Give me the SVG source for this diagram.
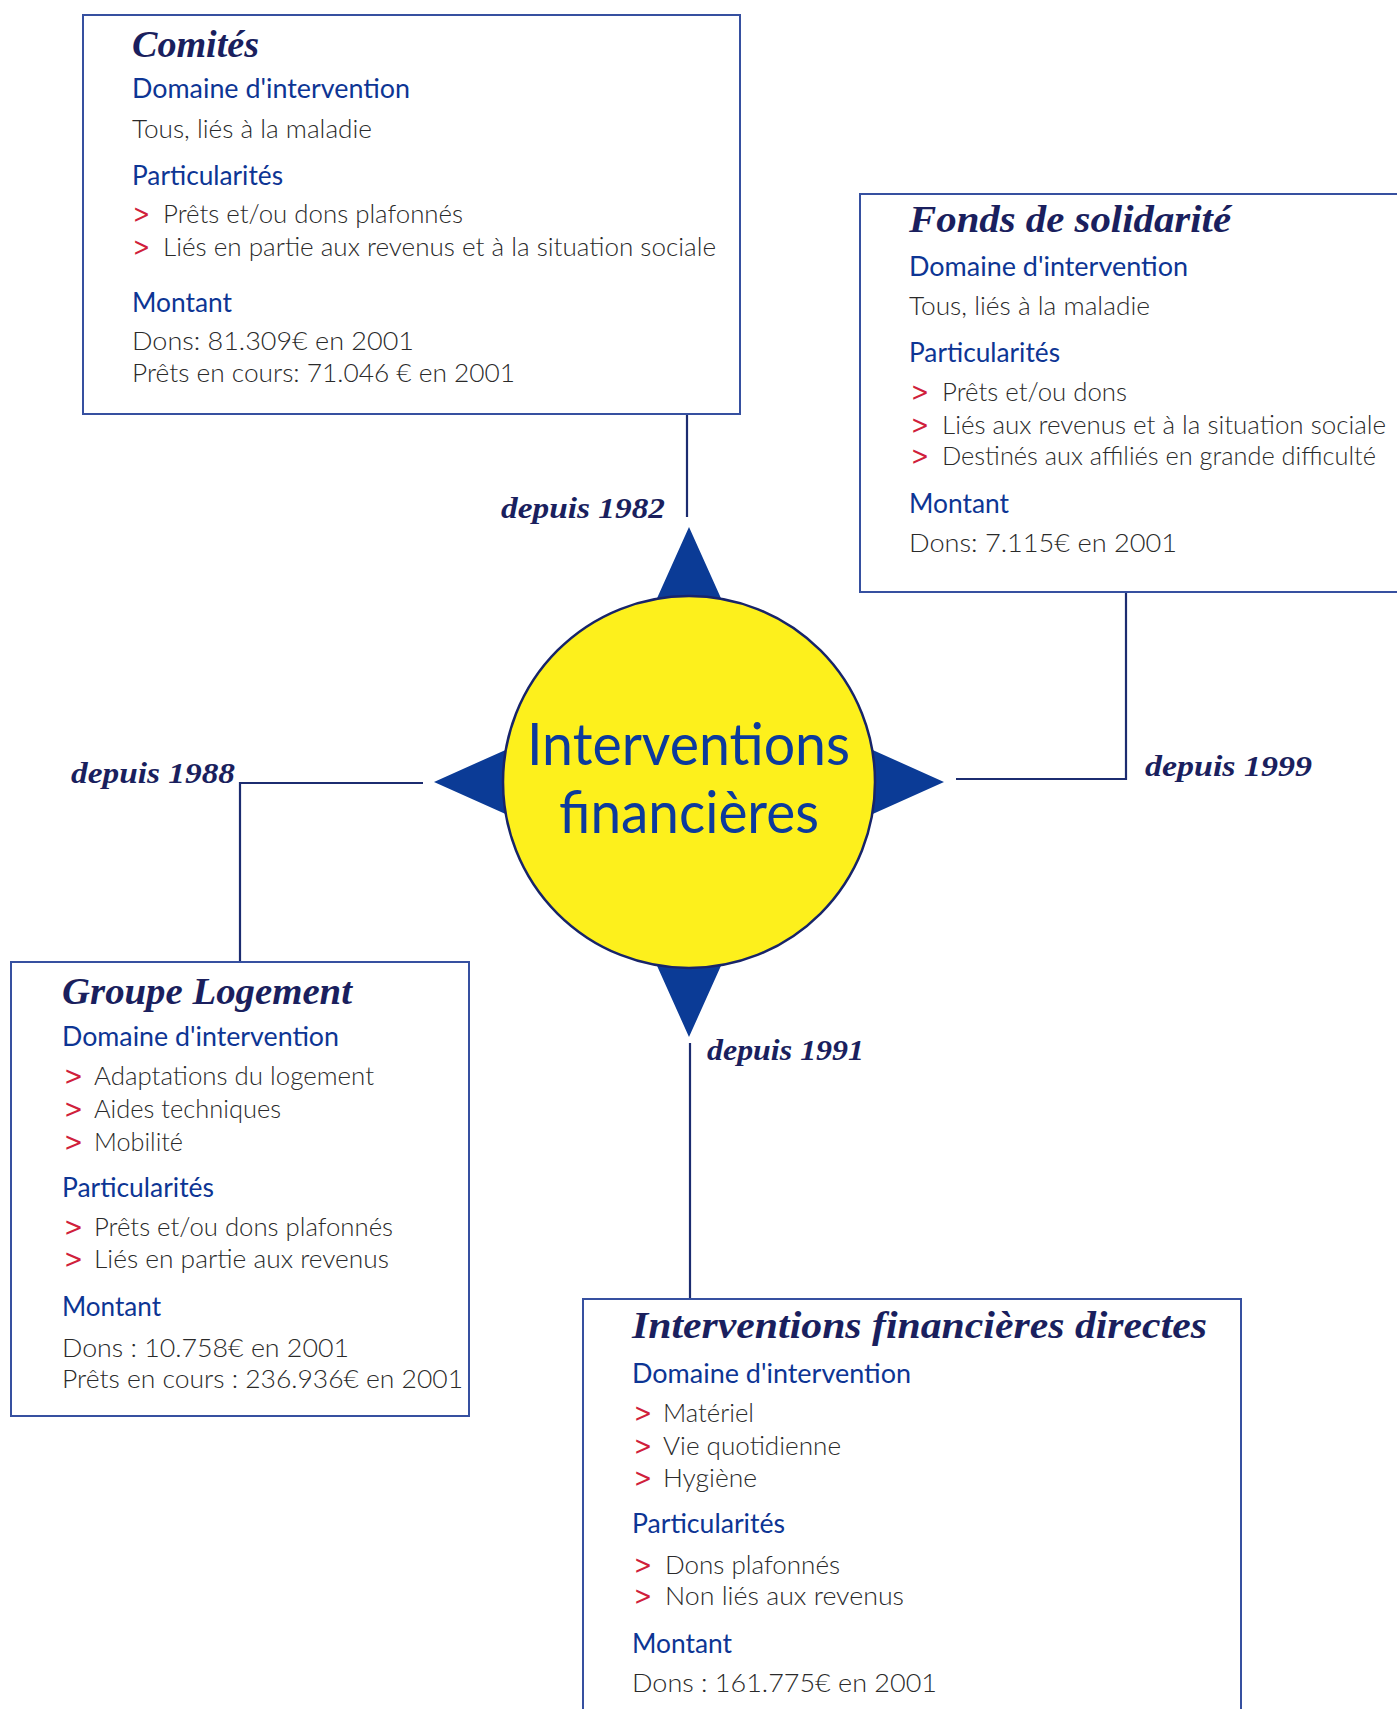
<svg xmlns="http://www.w3.org/2000/svg" width="1397" height="1709" viewBox="0 0 1397 1709">
<style>
.box{fill:#fff;stroke:#3650a0;stroke-width:2}
.con{fill:none;stroke:#1c2c70;stroke-width:2.2}
.ttl{font-family:"Liberation Serif",serif;font-style:italic;font-weight:bold;font-size:38px;fill:#1a1f5e}
.dep{font-family:"Liberation Serif",serif;font-style:italic;font-weight:bold;font-size:30px;fill:#1a1f5e}
.hd{font-family:Lato,"Open Sans",sans-serif;font-size:26px;fill:#0d3594}
.tx{font-family:Lato,"Open Sans",sans-serif;font-weight:300;font-size:26px;fill:#2a2a2a}
.bl{font-family:"DejaVu Sans",sans-serif;font-size:26px;fill:#d01f3c}
.ctr{font-family:Lato,"Open Sans",sans-serif;font-size:58px;fill:#0c3a9c}
</style>
<rect width="1397" height="1709" fill="#fff"/>
<g id="connectors">
<path class="con" d="M687 414 V517"/>
<path class="con" d="M1126 592 V779 H956"/>
<path class="con" d="M423 783 H240 V962"/>
<path class="con" d="M690 1043 V1299"/>
</g>
<g id="center">
<polygon fill="#0b3b96" points="689,527 768,703 944,782 768,861 689,1037 610,861 434,782 610,703"/>
<circle cx="689" cy="782" r="186" fill="#fdf01c" stroke="#17246a" stroke-width="2.5"/>
<text class="ctr" x="527" y="765" textLength="323" lengthAdjust="spacingAndGlyphs" fill="#1a3182">Interventions</text>
<text class="ctr" x="559" y="833" textLength="260" lengthAdjust="spacingAndGlyphs">financières</text>
</g>
<g id="labels">
<text class="dep" x="501" y="518" textLength="164" lengthAdjust="spacingAndGlyphs">depuis 1982</text>
<text class="dep" x="71" y="783" textLength="164" lengthAdjust="spacingAndGlyphs">depuis 1988</text>
<text class="dep" x="1145" y="776" textLength="167" lengthAdjust="spacingAndGlyphs">depuis 1999</text>
<text class="dep" x="707" y="1060" textLength="157" lengthAdjust="spacingAndGlyphs">depuis 1991</text>
</g>
<g id="comites">
<rect class="box" x="83" y="15" width="657" height="399"/>
<text class="ttl" x="132" y="57" textLength="127" lengthAdjust="spacingAndGlyphs">Comités</text>
<text class="hd" x="132" y="98" textLength="278" lengthAdjust="spacingAndGlyphs">Domaine d'intervention</text>
<text class="tx" x="132" y="138" textLength="240" lengthAdjust="spacingAndGlyphs">Tous, liés à la maladie</text>
<text class="hd" x="132" y="185" textLength="151" lengthAdjust="spacingAndGlyphs">Particularités</text>
<text class="bl" x="133" y="223" textLength="17" lengthAdjust="spacingAndGlyphs">&gt;</text>
<text class="tx" x="163" y="223" textLength="300" lengthAdjust="spacingAndGlyphs">Prêts et/ou dons plafonnés</text>
<text class="bl" x="133" y="256" textLength="17" lengthAdjust="spacingAndGlyphs">&gt;</text>
<text class="tx" x="163" y="256" textLength="553" lengthAdjust="spacingAndGlyphs">Liés en partie aux revenus et à la situation sociale</text>
<text class="hd" x="132" y="312" textLength="100" lengthAdjust="spacingAndGlyphs">Montant</text>
<text class="tx" x="132" y="350" textLength="282" lengthAdjust="spacingAndGlyphs">Dons: 81.309€ en 2001</text>
<text class="tx" x="132" y="382" textLength="383" lengthAdjust="spacingAndGlyphs">Prêts en cours: 71.046 € en 2001</text>
</g>
<g id="fonds">
<rect class="box" x="860" y="194" width="560" height="398"/>
<text class="ttl" x="909" y="232" textLength="322" lengthAdjust="spacingAndGlyphs">Fonds de solidarité</text>
<text class="hd" x="909" y="276" textLength="279" lengthAdjust="spacingAndGlyphs">Domaine d'intervention</text>
<text class="tx" x="909" y="315" textLength="241" lengthAdjust="spacingAndGlyphs">Tous, liés à la maladie</text>
<text class="hd" x="909" y="362" textLength="151" lengthAdjust="spacingAndGlyphs">Particularités</text>
<text class="bl" x="911" y="401" textLength="18" lengthAdjust="spacingAndGlyphs">&gt;</text>
<text class="tx" x="942" y="401" textLength="185" lengthAdjust="spacingAndGlyphs">Prêts et/ou dons</text>
<text class="bl" x="911" y="434" textLength="18" lengthAdjust="spacingAndGlyphs">&gt;</text>
<text class="tx" x="942" y="434" textLength="444" lengthAdjust="spacingAndGlyphs">Liés aux revenus et à la situation sociale</text>
<text class="bl" x="911" y="465" textLength="18" lengthAdjust="spacingAndGlyphs">&gt;</text>
<text class="tx" x="942" y="465" textLength="434" lengthAdjust="spacingAndGlyphs">Destinés aux affiliés en grande difficulté</text>
<text class="hd" x="909" y="513" textLength="100" lengthAdjust="spacingAndGlyphs">Montant</text>
<text class="tx" x="909" y="552" textLength="268" lengthAdjust="spacingAndGlyphs">Dons: 7.115€ en 2001</text>
</g>
<g id="groupe">
<rect class="box" x="11" y="962" width="458" height="454"/>
<text class="ttl" x="62" y="1004" textLength="290" lengthAdjust="spacingAndGlyphs">Groupe Logement</text>
<text class="hd" x="62" y="1046" textLength="277" lengthAdjust="spacingAndGlyphs">Domaine d'intervention</text>
<text class="bl" x="64" y="1085" textLength="19" lengthAdjust="spacingAndGlyphs">&gt;</text>
<text class="tx" x="94" y="1085" textLength="280" lengthAdjust="spacingAndGlyphs">Adaptations du logement</text>
<text class="bl" x="64" y="1118" textLength="19" lengthAdjust="spacingAndGlyphs">&gt;</text>
<text class="tx" x="94" y="1118" textLength="187" lengthAdjust="spacingAndGlyphs">Aides techniques</text>
<text class="bl" x="64" y="1151" textLength="19" lengthAdjust="spacingAndGlyphs">&gt;</text>
<text class="tx" x="94" y="1151" textLength="89" lengthAdjust="spacingAndGlyphs">Mobilité</text>
<text class="hd" x="62" y="1197" textLength="152" lengthAdjust="spacingAndGlyphs">Particularités</text>
<text class="bl" x="64" y="1236" textLength="19" lengthAdjust="spacingAndGlyphs">&gt;</text>
<text class="tx" x="94" y="1236" textLength="299" lengthAdjust="spacingAndGlyphs">Prêts et/ou dons plafonnés</text>
<text class="bl" x="64" y="1268" textLength="19" lengthAdjust="spacingAndGlyphs">&gt;</text>
<text class="tx" x="94" y="1268" textLength="295" lengthAdjust="spacingAndGlyphs">Liés en partie aux revenus</text>
<text class="hd" x="62" y="1316" textLength="99" lengthAdjust="spacingAndGlyphs">Montant</text>
<text class="tx" x="62" y="1357" textLength="287" lengthAdjust="spacingAndGlyphs">Dons : 10.758€ en 2001</text>
<text class="tx" x="62" y="1388" textLength="401" lengthAdjust="spacingAndGlyphs">Prêts en cours : 236.936€ en 2001</text>
</g>
<g id="directes">
<rect class="box" x="583" y="1299" width="658" height="430"/>
<text class="ttl" x="632" y="1338" textLength="575" lengthAdjust="spacingAndGlyphs">Interventions financières directes</text>
<text class="hd" x="632" y="1383" textLength="279" lengthAdjust="spacingAndGlyphs">Domaine d'intervention</text>
<text class="bl" x="634" y="1422" textLength="18" lengthAdjust="spacingAndGlyphs">&gt;</text>
<text class="tx" x="663" y="1422" textLength="91" lengthAdjust="spacingAndGlyphs">Matériel</text>
<text class="bl" x="634" y="1455" textLength="18" lengthAdjust="spacingAndGlyphs">&gt;</text>
<text class="tx" x="663" y="1455" textLength="178" lengthAdjust="spacingAndGlyphs">Vie quotidienne</text>
<text class="bl" x="634" y="1487" textLength="18" lengthAdjust="spacingAndGlyphs">&gt;</text>
<text class="tx" x="663" y="1487" textLength="94" lengthAdjust="spacingAndGlyphs">Hygiène</text>
<text class="hd" x="632" y="1533" textLength="153" lengthAdjust="spacingAndGlyphs">Particularités</text>
<text class="bl" x="634" y="1574" textLength="18" lengthAdjust="spacingAndGlyphs">&gt;</text>
<text class="tx" x="665" y="1574" textLength="175" lengthAdjust="spacingAndGlyphs">Dons plafonnés</text>
<text class="bl" x="634" y="1605" textLength="18" lengthAdjust="spacingAndGlyphs">&gt;</text>
<text class="tx" x="665" y="1605" textLength="239" lengthAdjust="spacingAndGlyphs">Non liés aux revenus</text>
<text class="hd" x="632" y="1653" textLength="100" lengthAdjust="spacingAndGlyphs">Montant</text>
<text class="tx" x="632" y="1692" textLength="305" lengthAdjust="spacingAndGlyphs">Dons : 161.775€ en 2001</text>
</g>
</svg>
